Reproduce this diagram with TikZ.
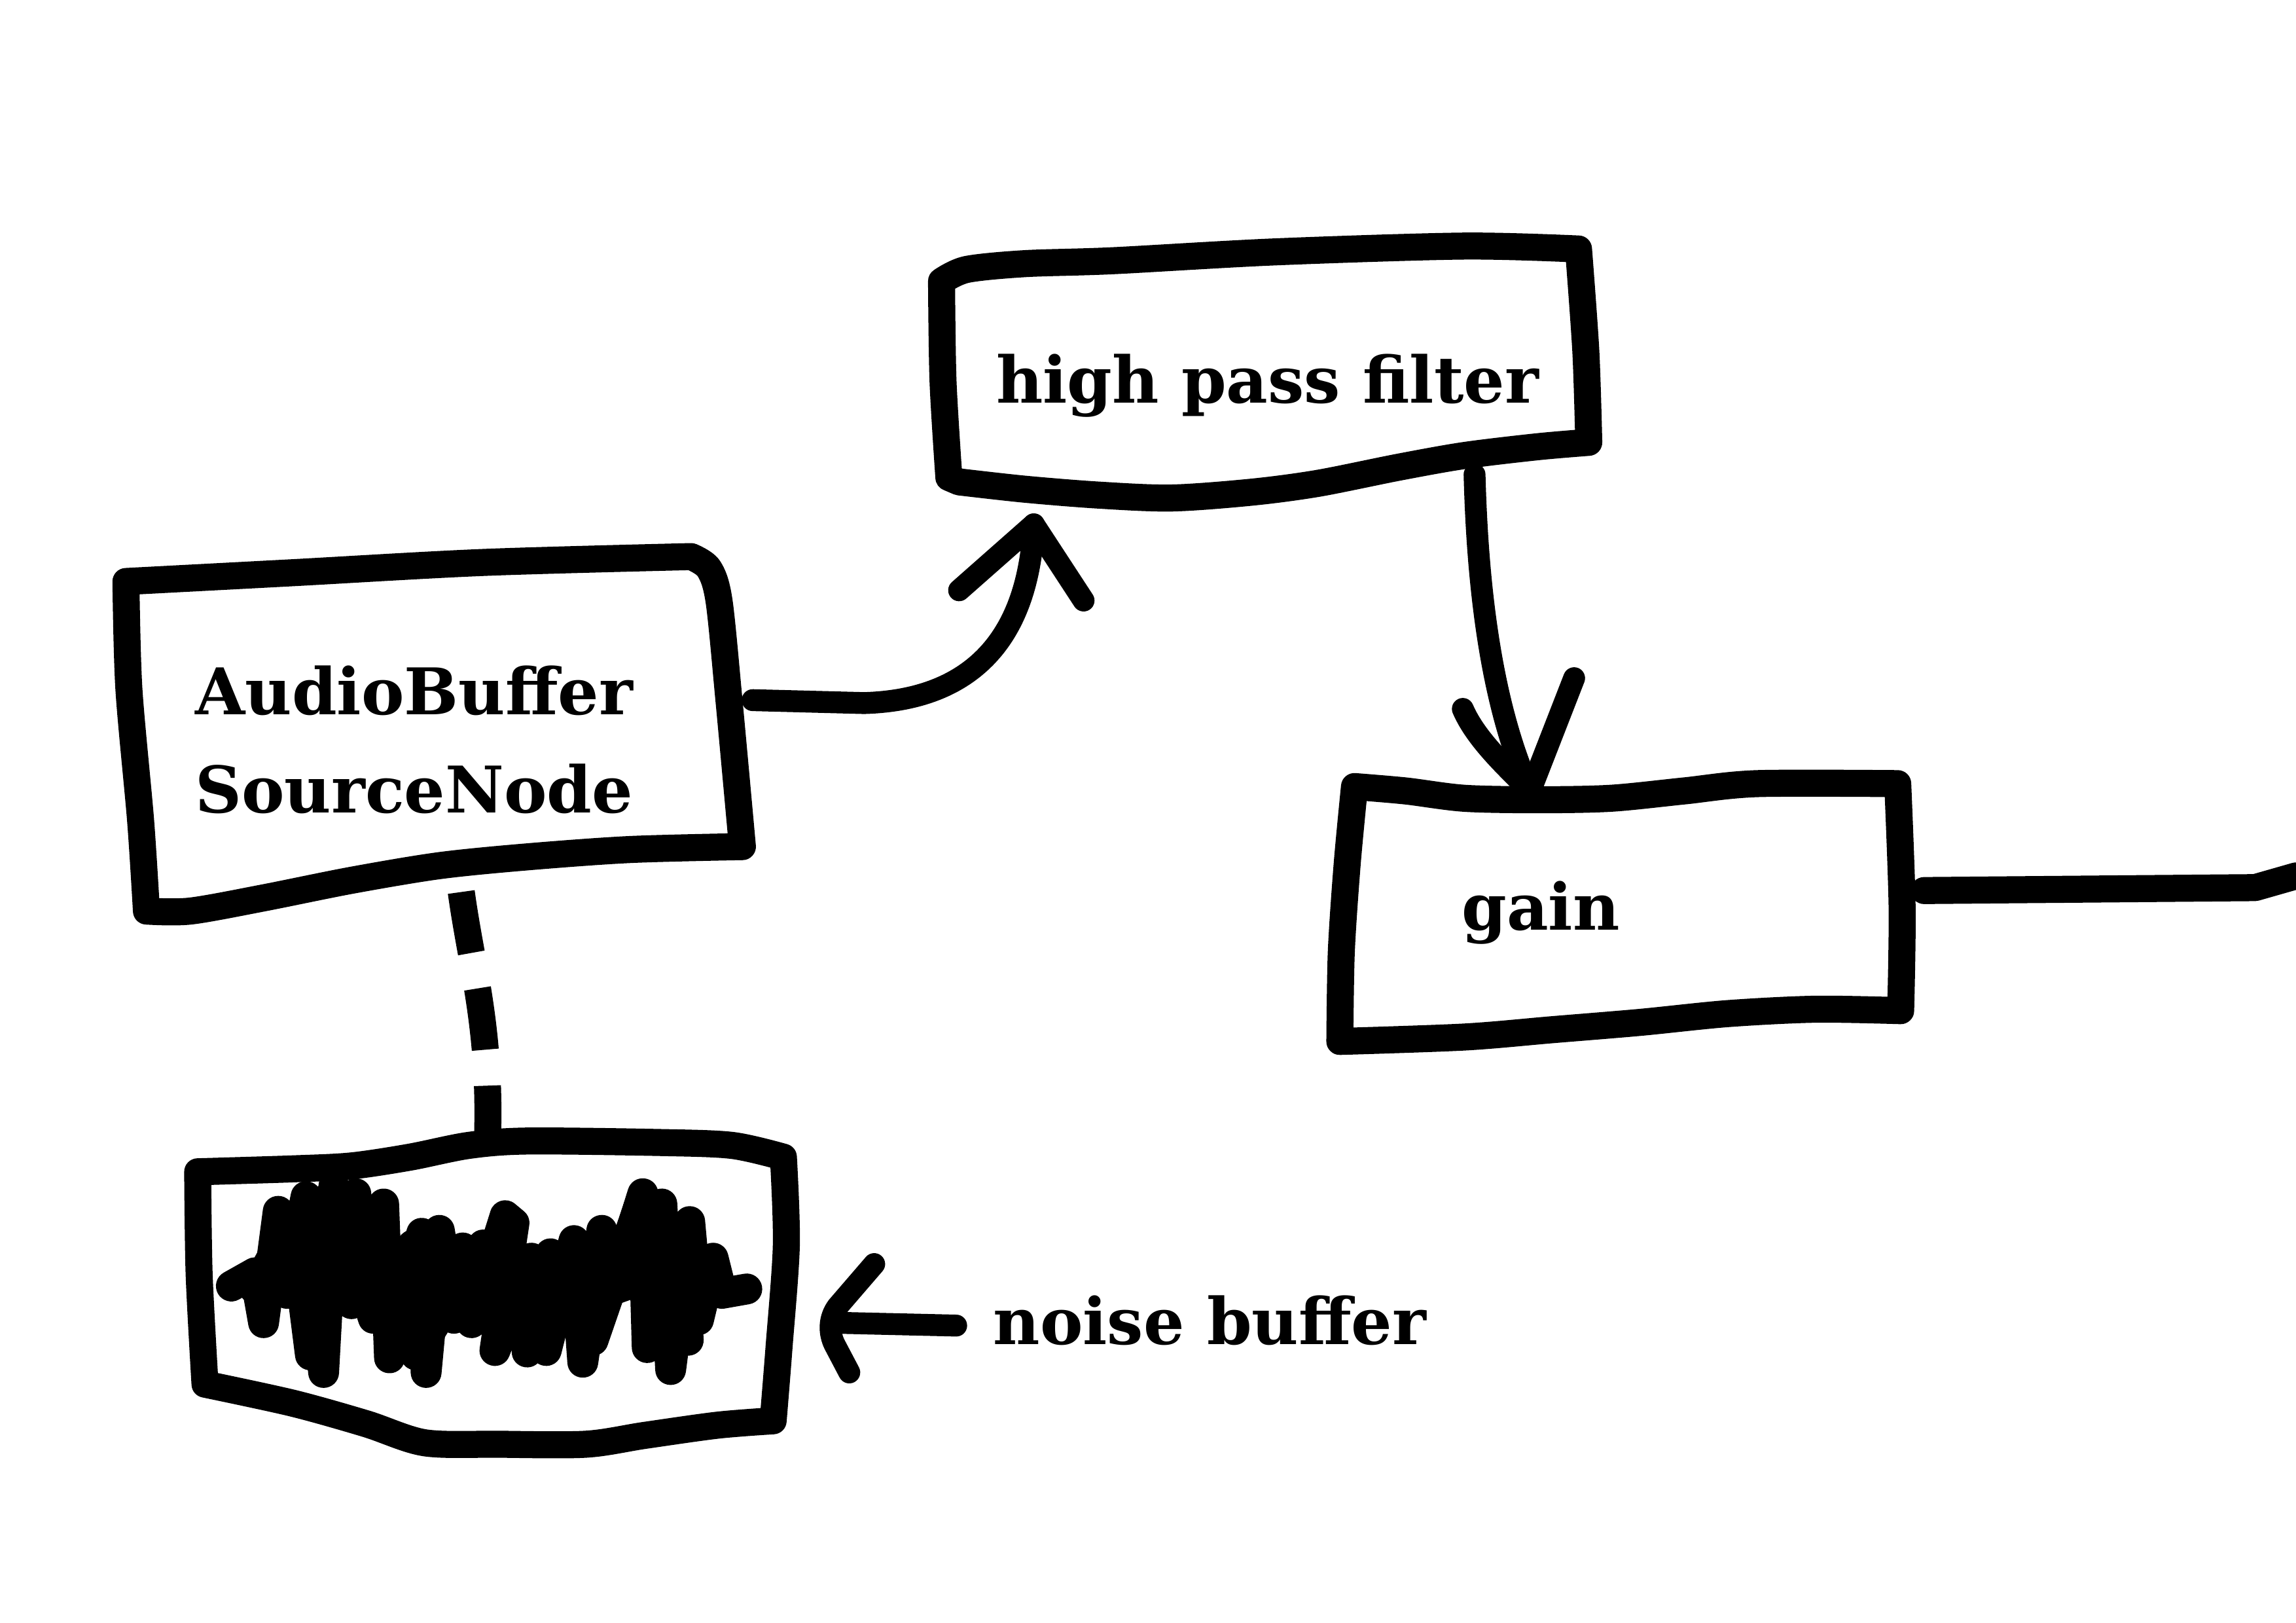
\documentclass[tikz,border=0pt]{standalone}
\usepackage{fontspec}
\setmainfont{DejaVu Serif}
\begin{document}
\begin{tikzpicture}[x=0.02cm,y=-0.02cm,
  sk/.style={line width=10.5pt,line join=round,line cap=round},
  arr/.style={line width=8.5pt,line join=round,line cap=round},
  wave/.style={line width=12pt,line join=round,line cap=round},
  lbl/.style={font=\bfseries\fontsize{25}{29}\selectfont,inner sep=0pt,anchor=base west}]
\useasboundingbox[fill=white] (0,0) rectangle (1568,1108);

% boxes
\draw[sk] plot[smooth,tension=.5] coordinates {(86,397) (200,391) (330,384) (472,380)}
  -- plot[smooth,tension=.5] coordinates {(472,380) (484,388) (491,410) (498,480) (507,578)}
  -- plot[smooth,tension=.5] coordinates {(507,578) (430,580) (360,585) (300,591) (240,601) (180,613) (130,622) (100,622)}
  -- plot[smooth,tension=.5] coordinates {(100,622) (96,560) (88,470) (86,397)} -- cycle;
\draw[sk] plot[smooth,tension=.5] coordinates {(643,192) (660,184) (700,180) (760,178) (870,172) (1000,168) (1078,170)}
  -- plot[smooth,tension=.5] coordinates {(1078,170) (1083,240) (1085,302)}
  -- plot[smooth,tension=.5] coordinates {(1085,302) (1050,305) (1000,311) (955,319) (900,330) (855,336) (800,340) (750,338) (700,334) (655,329)}
  -- plot[smooth,tension=.5] coordinates {(648,326) (644,260) (643,192)} -- cycle;
\draw[sk] plot[smooth,tension=.5] coordinates {(925,537) (960,540) (1000,545) (1050,546) (1100,545) (1150,540) (1200,535) (1296,535)}
  -- plot[smooth,tension=.5] coordinates {(1296,535) (1299,620) (1298,690)}
  -- plot[smooth,tension=.5] coordinates {(1298,690) (1240,689) (1180,692) (1120,698) (1060,703) (1000,708) (915,711)}
  -- plot[smooth,tension=.5] coordinates {(915,711) (916,650) (920,590) (925,537)} -- cycle;
\draw[sk] plot[smooth,tension=.5] coordinates {(135,800) (200,798) (240,796) (280,790) (320,782) (360,779) (450,780) (500,782) (535,790)}
  -- plot[smooth,tension=.5] coordinates {(535,790) (537,850) (532,920) (528,970)}
  -- plot[smooth,tension=.5] coordinates {(528,970) (490,973) (440,980) (400,986) (340,986) (290,985) (250,972) (200,958) (140,945)}
  -- plot[smooth,tension=.5] coordinates {(140,945) (136,870) (135,800)} -- cycle;

% waveform
\draw[wave] (158,878) -- (174,869) -- (180,903) -- (190,827) -- (196,883) -- (209,817) -- (221,937) -- (228,810)
  -- (235,880) -- (243,815) -- (247,879) -- (262,822) -- (266,927) -- (288,842) -- (291,937) -- (300,840) -- (310,900)
  -- (316,852) -- (322,903) -- (345,830) -- (351,835) -- (338,922) -- (363,859) -- (360,923) -- (376,856)
  -- (373,922) -- (392,847) -- (398,930) -- (411,840) -- (423,866) -- (439,815) -- (442,920) -- (452,822)
  -- (458,935) -- (471,834) -- (477,901) -- (487,859) -- (493,883) -- (510,880);
\draw[wave] (174,880) -- (196,840) -- (215,900) -- (232,830) -- (255,900) -- (275,870) -- (296,890) -- (326,860)
  -- (352,880) -- (385,870) -- (420,880) -- (448,870) -- (480,880);
\draw[wave] (200,830) -- (212,925) -- (224,818) -- (240,890) -- (282,850) -- (284,925) -- (330,850) -- (350,910)
  -- (395,850) -- (405,915) -- (436,825) -- (450,910) -- (466,840) -- (470,915);

% labels
\node[lbl] (ab) at (133,488) {AudioBuffer};
\node[lbl] (sn) at (133,555) {SourceNode};
\node[lbl] (hp) at (680,275) {high pass filter};
\node[lbl] (gn) at (998,635) {gain};
\node[lbl] (nb) at (678,918) {noise buffer};

% anchor coordinates
\coordinate (srcOut) at (514,478);
\coordinate (hpIn) at (706,358);
\coordinate (hpOut) at (1007,324);
\coordinate (gnIn) at (1045,540);
\coordinate (gnOut) at (1314,608);
\coordinate (edge) at (1568,598);
\coordinate (srcBot) at (315,609);
\coordinate (nbTop) at (333,775);
\coordinate (nbArr) at (568,903);
\coordinate (nbTail) at (653,905);

% connectors
\draw[arr] (srcOut) -- (590,480) .. controls (660,478) and (702,440) .. (hpIn);
\draw[arr] (655,403) -- (hpIn) -- (740,410);
\draw[arr] (hpOut) .. controls (1009,400) and (1018,480) .. (gnIn);
\draw[arr] (999,484) .. controls (1008,505) and (1030,525) .. (gnIn) -- (1075,463);
\draw[sk] (gnOut) -- (1540,606) -- (edge);
\draw[sk,line cap=butt,dash pattern=on 24pt off 14pt] (srcBot) .. controls (322,660) and (335,700) .. (nbTop);
\draw[arr] (nbTail) -- (nbArr);
\draw[arr] (597,863) -- (572,892) .. controls (566,900) and (566,910) .. (570,918) -- (580,937);
\end{tikzpicture}
\end{document}
